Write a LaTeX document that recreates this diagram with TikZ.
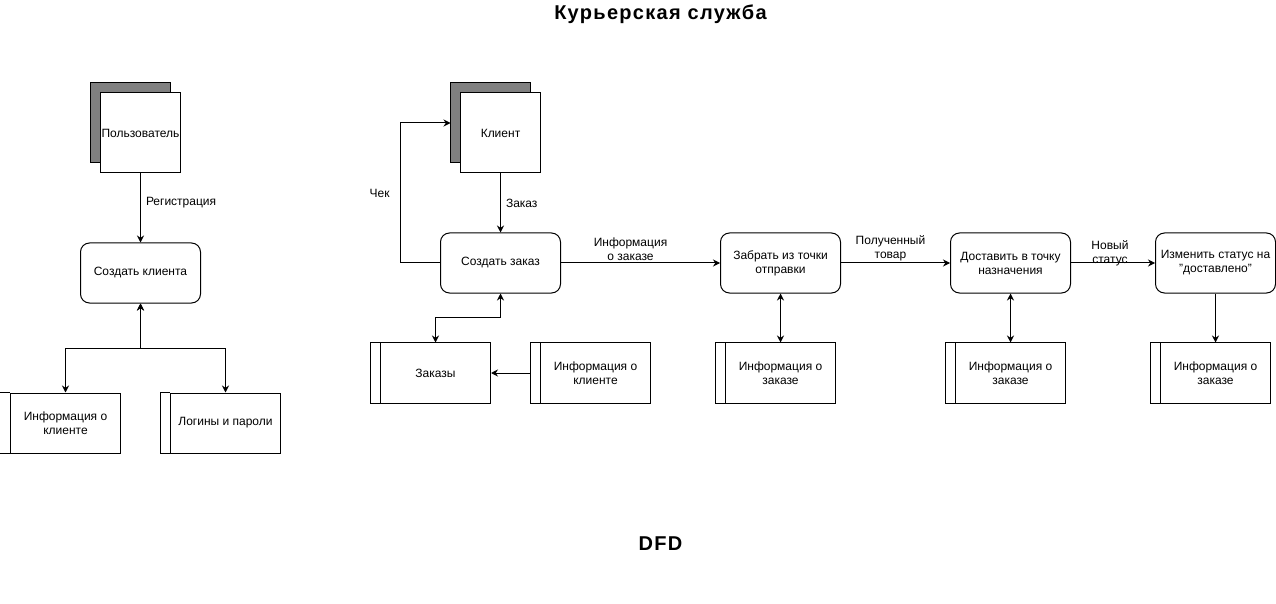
\documentclass[tikz,border=0pt]{standalone}
\usepackage{fontspec}
\setmainfont{Liberation Sans}
\usetikzlibrary{arrows.meta,shadows}
\definecolor{shadowgray}{RGB}{128,128,128}
\tikzset{
  process/.style={draw, rounded corners=9bp, minimum width=120bp, minimum height=60bp, inner sep=0pt, align=center},
  store/.style={draw, minimum width=110bp, minimum height=60bp, inner sep=0pt, align=center,
    append after command={([xshift=-10bp]\tikzlastnode.north west) edge (\tikzlastnode.north west)
      ([xshift=-10bp]\tikzlastnode.south west) edge (\tikzlastnode.south west)
      ([xshift=-10bp]\tikzlastnode.north west) edge ([xshift=-10bp]\tikzlastnode.south west)}},
  entity/.style={draw, fill=white, minimum width=80bp, minimum height=80bp, inner sep=0pt,
    general shadow={draw, fill=shadowgray, shadow xshift=-10bp, shadow yshift=10bp}},
  flow/.style={-{Stealth[length=7bp,width=7bp]}},
  both/.style={{Stealth[length=7bp,width=7bp]}-{Stealth[length=7bp,width=7bp]}},
  lbl/.style={inner sep=0pt, align=center},
  title/.style={font=\fontsize{20bp}{24bp}\selectfont\bfseries\addfontfeature{LetterSpace=6.5}}
}
\begin{document}
\begin{tikzpicture}[x=1bp, y=-1bp, line width=1bp, font=\fontsize{12bp}{14bp}\selectfont]
  \useasboundingbox (-0.5,0) rectangle (1275.5,604);
  %Titles
  \node[title] (maintitle) at (660,14) {Курьерская служба};
  \node[title] (dfdtitle) at (660,544) {DFD};

  %Registration
  \node[entity] (user) at (140,133) {Пользователь};
  \node[process] (mkclient) at (140,273) {Создать клиента};
  \node[store] (clinfo) at (65,423) {Информация о\\клиенте};
  \node[store] (logins) at (225,423) {Логины и пароли};
  \coordinate (regjoin) at (140,348);
  \draw[flow] (user) -- (mkclient) node[lbl, midway, anchor=west, xshift=5bp, yshift=5bp] (reglbl) {Регистрация};
  \draw[both] (clinfo.north) |- (regjoin) -- (mkclient.south);
  \draw[both] (logins.north) |- (regjoin) -- (mkclient.south);

  %Order
  \node[entity] (client) at (500,133) {Клиент};
  \node[process] (mkorder) at (500,263) {Создать заказ};
  \node[store] (orders) at (435,373) {Заказы};
  \node[store] (clinfob) at (595,373) {Информация о\\клиенте};
  \coordinate (clientshadow) at (450,123);
  \coordinate (ordjoin) at (500,318);
  \draw[flow] (client) -- (mkorder) node[lbl, midway, anchor=west, xshift=5bp] (orderlbl) {Заказ};
  \draw[flow] (mkorder.west) -- ++(-40,0) |- (clientshadow) node[lbl, pos=0.25, anchor=east, xshift=-10bp] (cheklbl) {Чек};
  \draw[both] (orders.north) |- (ordjoin) -- (mkorder.south);
  \draw[flow] ([xshift=-10bp]clinfob.west) -- (orders.east);

  %Delivery
  \node[process] (pickup) at (780,263) {Забрать из точки\\отправки};
  \node[process] (deliver) at (1010,263) {Доставить в точку\\назначения};
  \node[process] (setstatus) at (1215,263) {Изменить статус на\\\char34доставлено\char34};
  \node[store] (ordinfoa) at (780,373) {Информация о\\заказе};
  \node[store] (ordinfob) at (1010,373) {Информация о\\заказе};
  \node[store] (ordinfoc) at (1215,373) {Информация о\\заказе};
  \draw[flow] (mkorder) -- (pickup) node[lbl, midway, anchor=south, xshift=-10bp, yshift=2bp] (infolbl) {Информация\\о заказе};
  \draw[flow] (pickup) -- (deliver) node[lbl, midway, anchor=south, xshift=-5bp, yshift=2bp] (goodslbl) {Полученный\\товар};
  \draw[flow] (deliver) -- (setstatus) node[lbl, midway, anchor=south, xshift=-3bp, yshift=-3bp] (statuslbl) {Новый\\статус};
  \draw[both] (pickup) -- (ordinfoa);
  \draw[both] (deliver) -- (ordinfob);
  \draw[flow] (setstatus) -- (ordinfoc);
\end{tikzpicture}
\end{document}
